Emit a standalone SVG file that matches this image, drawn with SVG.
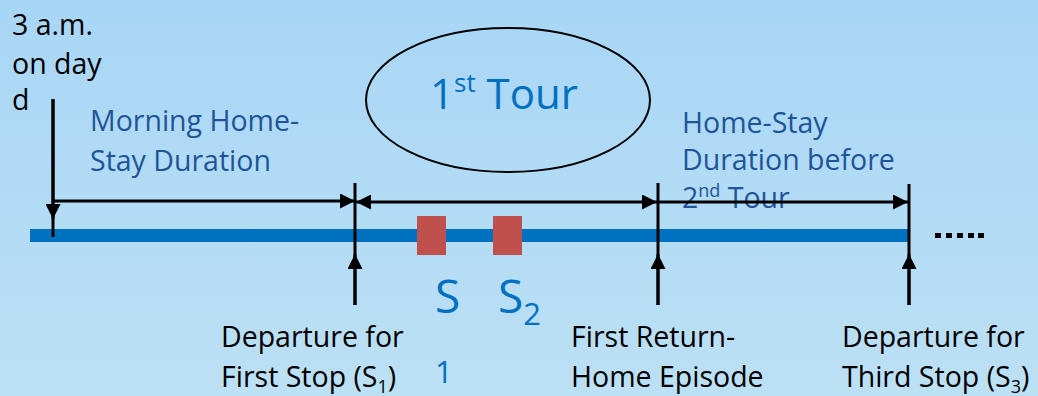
<svg xmlns="http://www.w3.org/2000/svg" width="1038" height="396" viewBox="0 0 1038 396">
<defs>
<linearGradient id="bg" x1="0" y1="0" x2="0" y2="1">
<stop offset="0" stop-color="#a8d6f6"/>
<stop offset="1" stop-color="#bce0f4"/>
</linearGradient>
<marker id="ah" viewBox="0 0 10 10" refX="10" refY="5" markerWidth="5" markerHeight="5" markerUnits="strokeWidth" orient="auto-start-reverse">
<path d="M0,0 L10,5 L0,10 z" fill="#000"/>
</marker>
<style>
.lbl{font-family:"Open Sans","Noto Sans",sans-serif;font-size:28.5px;fill:#000}
.dur{font-family:"Open Sans","Noto Sans",sans-serif;font-size:28.5px;fill:#1f5596}
.blue{font-family:"Open Sans","Noto Sans",sans-serif;fill:#0070c0}
.ln{stroke:#000;stroke-width:3;fill:none}
.stop{fill:#c0504d}
</style>
</defs>
<rect width="1038" height="396" fill="url(#bg)"/>
<g id="timeline">
<rect x="30" y="229" width="879" height="13" fill="#0070c0"/>
</g>
<g id="tour1">
<ellipse cx="508" cy="100" rx="142" ry="72" fill="none" stroke="#000" stroke-width="2"/>
<text class="blue" x="430" y="109" font-size="42">1<tspan font-size="26" dy="-17">st</tspan><tspan dy="17"> Tour</tspan></text>
</g>
<g id="stops">
<rect class="stop" x="417" y="216" width="29" height="39"/>
<rect class="stop" x="493" y="216" width="29" height="39"/>
<text class="blue" x="435" y="313" font-size="46">S</text>
<text class="blue" x="435" y="383" font-size="31">1</text>
<text class="blue" x="498" y="313" font-size="46">S<tspan font-size="31" dy="12">2</tspan></text>
</g>
<g id="start-label">
<text class="lbl" x="12" y="35">3 a.m.</text>
<text class="lbl" x="12" y="74">on day</text>
<text class="lbl" x="12" y="110">d</text>
</g>
<g id="morning-label">
<text class="dur" x="90" y="131">Morning Home-</text>
<text class="dur" x="90" y="171">Stay Duration</text>
</g>
<g id="homestay-label">
<text class="dur" x="682" y="133">Home-Stay</text>
<text class="dur" x="682" y="170">Duration before</text>
<text class="dur" x="682" y="208">2<tspan font-size="18" dy="-11">nd</tspan><tspan dy="11"> Tour</tspan></text>
</g>
<g id="dep1-label">
<text class="lbl" x="221" y="347">Departure for</text>
<text class="lbl" x="221" y="387">First Stop (S<tspan font-size="18" dy="6">1</tspan><tspan dy="-6">)</tspan></text>
</g>
<g id="return-label">
<text class="lbl" x="571" y="347">First Return-</text>
<text class="lbl" x="571" y="387">Home Episode</text>
</g>
<g id="dep3-label">
<text class="lbl" x="842" y="347">Departure for</text>
<text class="lbl" x="842" y="387">Third Stop (S<tspan font-size="18" dy="6">3</tspan><tspan dy="-6">)</tspan></text>
</g>
<g id="ellipsis">
<rect x="935" y="233" width="6" height="5"/>
<rect x="946" y="233" width="6" height="5"/>
<rect x="957" y="233" width="6" height="5"/>
<rect x="968" y="233" width="6" height="5"/>
<rect x="978" y="233" width="6" height="5"/>
</g>
<g id="connectors">
<line class="ln" x1="53" y1="99" x2="53" y2="237"/>
<line class="ln" x1="53" y1="99" x2="53" y2="219" marker-end="url(#ah)"/>
<line class="ln" x1="53" y1="201" x2="355" y2="201" marker-end="url(#ah)"/>
<line class="ln" x1="355" y1="183" x2="355" y2="305"/>
<line class="ln" x1="355" y1="305" x2="355" y2="254" marker-end="url(#ah)"/>
<line class="ln" x1="356" y1="202" x2="657" y2="202" marker-start="url(#ah)" marker-end="url(#ah)"/>
<line class="ln" x1="658" y1="183" x2="658" y2="305"/>
<line class="ln" x1="658" y1="305" x2="658" y2="254" marker-end="url(#ah)"/>
<line class="ln" x1="658" y1="202" x2="908" y2="202" marker-end="url(#ah)"/>
<line class="ln" x1="909" y1="184" x2="909" y2="305"/>
<line class="ln" x1="909" y1="305" x2="909" y2="254" marker-end="url(#ah)"/>
</g>
</svg>
